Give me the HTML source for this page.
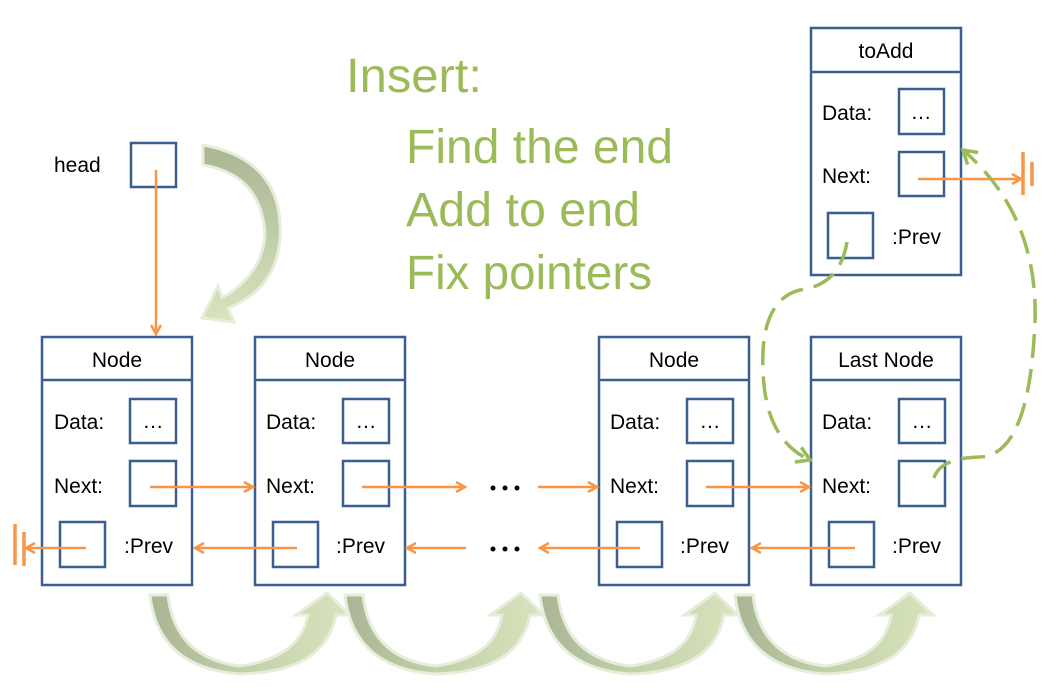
<!DOCTYPE html>
<html><head><style>body{margin:0;background:#fff}svg{display:block}</style></head><body>
<svg width="1048" height="693" viewBox="0 0 1048 693" xmlns="http://www.w3.org/2000/svg" font-family="Liberation Sans, sans-serif">
<defs>
<marker id="oa" markerWidth="12" markerHeight="12" refX="10" refY="6" orient="auto" markerUnits="userSpaceOnUse"><path d="M1,1 L10,6 L1,11" fill="none" stroke="#f79646" stroke-width="2.5"/></marker>
<marker id="ga" markerWidth="20" markerHeight="20" refX="16" refY="10" orient="auto" markerUnits="userSpaceOnUse"><path d="M3,2 L16,10 L3,18" fill="none" stroke="#9bbb59" stroke-width="3.5"/></marker>
<linearGradient id="cg" x1="0" x2="1" y1="0" y2="0"><stop offset="0" stop-color="#a9b594"/><stop offset="0.5" stop-color="#c4d2aa"/><stop offset="1" stop-color="#d7e4bd"/></linearGradient>
<linearGradient id="hg" x1="0" x2="0" y1="0" y2="1"><stop offset="0" stop-color="#a9b594"/><stop offset="1" stop-color="#d7e4bd"/></linearGradient>
</defs>

<g fill="#9bbb59" font-size="48">
<text x="346" y="92" textLength="136" lengthAdjust="spacingAndGlyphs">Insert:</text>
<text x="406" y="163" textLength="267" lengthAdjust="spacingAndGlyphs">Find the end</text>
<text x="406" y="226" textLength="234" lengthAdjust="spacingAndGlyphs">Add to end</text>
<text x="406" y="289" textLength="246" lengthAdjust="spacingAndGlyphs">Fix pointers</text>
</g>

<text x="54" y="172" font-size="21">head</text>
<rect x="131" y="143" width="45" height="44" fill="none" stroke="#3a5f8f" stroke-width="2.5"/>
<line x1="156" y1="170" x2="156" y2="334" stroke="#f79646" stroke-width="2.5" marker-end="url(#oa)"/>
<path d="M203,145 Q285,160 280,240 Q275,290 228,308 L234,322 L202,318 L218,286 L222,298 Q262,275 265,235 Q262,175 203,165 Z" fill="url(#hg)" stroke="#e6eedb" stroke-width="3"/>

<g stroke="#e6eedb" stroke-width="3" fill="url(#cg)">
<path d="M150,595 L168,595 Q175,658 240,666 Q300,658 308,615 L296,615 L327,593 L350,615 L336,615 Q325,672 240,674 Q158,668 150,595 Z"/>
<path d="M345,595 L363,595 Q370,658 435,666 Q495,658 502,615 L490,615 L521,593 L544,615 L530,615 Q519,672 435,674 Q353,668 345,595 Z"/>
<path d="M540,595 L558,595 Q565,658 630,666 Q690,658 696,615 L684,615 L715,593 L738,615 L724,615 Q713,672 630,674 Q548,668 540,595 Z"/>
<path d="M735,595 L753,595 Q760,658 825,666 Q885,658 891,615 L879,615 L910,593 L933,615 L919,615 Q908,672 825,674 Q743,668 735,595 Z"/>
</g>

<g stroke="#3a5f8f" stroke-width="2.5" fill="#fff">
<rect x="42" y="337" width="150" height="248"/><line x1="42" y1="380" x2="192" y2="380"/>
<rect x="255" y="337" width="150" height="248"/><line x1="255" y1="380" x2="405" y2="380"/>
<rect x="599" y="337" width="150" height="248"/><line x1="599" y1="380" x2="749" y2="380"/>
<rect x="811" y="337" width="150" height="248"/><line x1="811" y1="380" x2="961" y2="380"/>
<rect x="811" y="28" width="150" height="247"/><line x1="811" y1="72" x2="961" y2="72"/>
</g>
<g fill="none" stroke="#3a5f8f" stroke-width="2.5">
<rect x="130" y="399" width="46" height="44"/><rect x="130" y="461" width="46" height="45"/><rect x="60" y="522" width="45" height="45"/>
<rect x="343" y="399" width="46" height="44"/><rect x="343" y="461" width="46" height="45"/><rect x="273" y="522" width="45" height="45"/>
<rect x="687" y="399" width="46" height="44"/><rect x="687" y="461" width="46" height="45"/><rect x="617" y="522" width="45" height="45"/>
<rect x="899" y="399" width="46" height="44"/><rect x="899" y="461" width="46" height="45"/><rect x="829" y="522" width="45" height="45"/>
<rect x="899" y="89" width="45" height="45"/><rect x="899" y="152" width="45" height="44"/><rect x="828" y="213" width="45" height="45"/>
</g>
<g font-size="21" fill="#000">
<text x="117" y="367" text-anchor="middle">Node</text>
<text x="330" y="367" text-anchor="middle">Node</text>
<text x="674" y="367" text-anchor="middle">Node</text>
<text x="886" y="367" text-anchor="middle">Last Node</text>
<text x="886" y="58" text-anchor="middle">toAdd</text>
<text x="54" y="429">Data:</text><text x="54" y="493">Next:</text><text x="124" y="553">:Prev</text>
<text x="266" y="429">Data:</text><text x="266" y="493">Next:</text><text x="336" y="553">:Prev</text>
<text x="610" y="429">Data:</text><text x="610" y="493">Next:</text><text x="680" y="553">:Prev</text>
<text x="822" y="429">Data:</text><text x="822" y="493">Next:</text><text x="892" y="553">:Prev</text>
<text x="822" y="120">Data:</text><text x="822" y="183">Next:</text><text x="892" y="244">:Prev</text>
<text x="153" y="428" text-anchor="middle">…</text><text x="366" y="428" text-anchor="middle">…</text>
<text x="710" y="428" text-anchor="middle">…</text><text x="922" y="428" text-anchor="middle">…</text><text x="921" y="119" text-anchor="middle">…</text>
</g>
<g fill="#000">
<circle cx="493" cy="488" r="2.5"/><circle cx="505" cy="488" r="2.5"/><circle cx="517" cy="488" r="2.5"/>
<circle cx="493" cy="549" r="2.5"/><circle cx="505" cy="549" r="2.5"/><circle cx="517" cy="549" r="2.5"/>
</g>

<g stroke="#f79646" stroke-width="2.5" fill="none">
<line x1="150" y1="487" x2="253" y2="487" marker-end="url(#oa)"/>
<line x1="362" y1="487" x2="465" y2="487" marker-end="url(#oa)"/>
<line x1="538" y1="487" x2="597" y2="487" marker-end="url(#oa)"/>
<line x1="706" y1="487" x2="809" y2="487" marker-end="url(#oa)"/>
<line x1="855" y1="548" x2="752" y2="548" marker-end="url(#oa)"/>
<line x1="640" y1="548" x2="540" y2="548" marker-end="url(#oa)"/>
<line x1="466" y1="548" x2="407" y2="548" marker-end="url(#oa)"/>
<line x1="297" y1="548" x2="195" y2="548" marker-end="url(#oa)"/>
<line x1="86" y1="548" x2="26" y2="548" marker-end="url(#oa)"/>
<line x1="918" y1="179" x2="1021" y2="179" marker-end="url(#oa)"/>
</g>
<g stroke="#f79646" stroke-width="3.5">
<line x1="15" y1="524" x2="15" y2="565"/><line x1="24" y1="532" x2="24" y2="566"/>
<line x1="1023" y1="152" x2="1023" y2="195"/><line x1="1032" y1="162" x2="1032" y2="186"/>
</g>

<g stroke="#9bbb59" stroke-width="3.5" fill="none" stroke-dasharray="24,11">
<path d="M847,242 Q840,285 800,290 Q760,300 763,370 Q765,440 810,460" marker-end="url(#ga)"/>
<path d="M934,478 Q940,458 980,457 Q1030,455 1035,320 Q1038,215 963,150" marker-end="url(#ga)"/>
</g>
</svg>
</body></html>
